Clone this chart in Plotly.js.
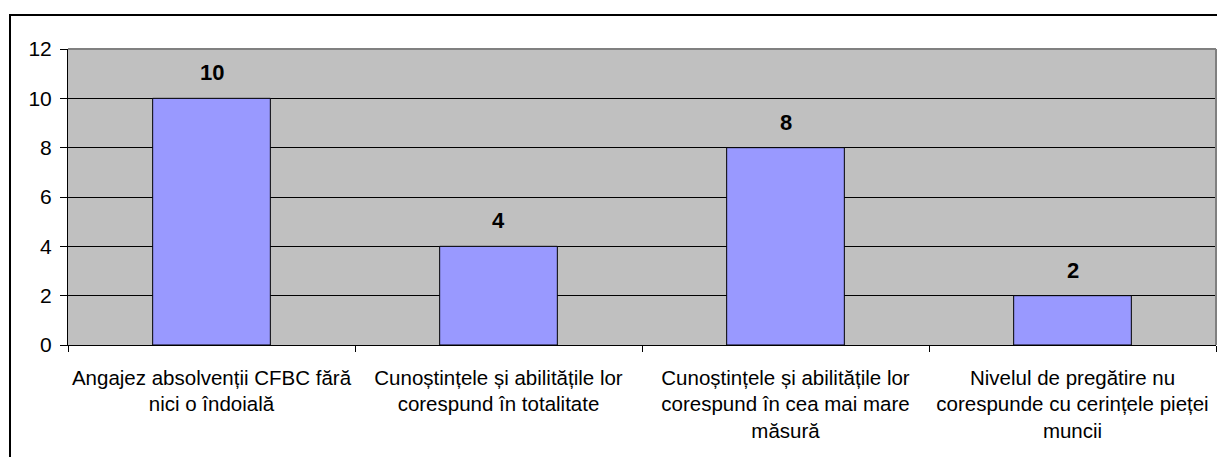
<!DOCTYPE html>
<html>
<head>
<meta charset="utf-8">
<script src="https://cdn.plot.ly/plotly-3.0.1.min.js"></script>
<style>
  html, body { margin: 0; padding: 0; overflow: hidden; background: #fff; }
  #chart { width: 1217px; height: 457px; position: absolute; left: 0; top: 0; }
  #frame { position: absolute; left: 9px; top: 14px; width: 1400px; height: 900px; border: 2px solid #000; pointer-events: none; box-sizing: border-box; }
</style>
</head>
<body>
<div id="chart"></div>
<div id="frame"></div>
<script>
const categories = [
  "Angajez absolvenții CFBC fără<br>nici o îndoială",
  "Cunoștințele și abilitățile lor<br>corespund în totalitate",
  "Cunoștințele și abilitățile lor<br>corespund în cea mai mare<br>măsură",
  "Nivelul de pregătire nu<br>corespunde cu cerințele pieței<br>muncii"
];
const values = [10, 4, 8, 2];
const yTicks = [0, 2, 4, 6, 8, 10, 12];

const font = "Liberation Sans, Arial, sans-serif";

const trace = {
  type: "bar",
  x: categories,
  y: values,
  marker: { color: "#9999FF", line: { color: "#000000", width: 1 } },
  hoverinfo: "skip"
};

const annotations = categories.map((c, i) => ({
  x: c, y: values[i], xref: "x", yref: "y",
  text: "<b>" + values[i] + "</b>",
  showarrow: false, yanchor: "bottom", yshift: 11,
  font: { family: font, size: 22, color: "#000" }
}));

const layout = {
  width: 1217, height: 457,
  margin: { l: 68, r: 1, t: 49, b: 112 },
  paper_bgcolor: "#ffffff",
  plot_bgcolor: "#C0C0C0",
  bargap: 0.59,
  showlegend: false,
  font: { family: font, size: 20.5, color: "#000" },
  xaxis: {
    type: "category",
    tickson: "boundaries",
    tickangle: 0,
    ticks: "outside", ticklen: 6, tickcolor: "#000", tickwidth: 1,
    showline: true, linecolor: "#000", linewidth: 1,
    showgrid: false,
    tickfont: { family: font, size: 20.5, color: "#000" },
    ticklabelstandoff: 14
  },
  yaxis: {
    range: [0, 12],
    tickvals: yTicks,
    ticktext: yTicks.map(String),
    ticks: "outside", ticklen: 7, tickcolor: "#000", tickwidth: 1,
    showline: true, linecolor: "#000", linewidth: 1,
    showgrid: true, gridcolor: "#000", gridwidth: 1,
    zeroline: false,
    tickfont: { family: font, size: 21, color: "#000" },
    ticklabelstandoff: 4
  },
  shapes: [
    { type: "line", xref: "paper", yref: "paper", x0: 0, x1: 1, y0: 1, y1: 1, line: { color: "#808080", width: 2 } },
    { type: "line", xref: "paper", yref: "paper", x0: 1, x1: 1, y0: 0, y1: 1, line: { color: "#808080", width: 2 } }
  ],
  annotations: annotations
};

Plotly.newPlot("chart", [trace], layout, { displayModeBar: false, staticPlot: true });
</script>
</body>
</html>
